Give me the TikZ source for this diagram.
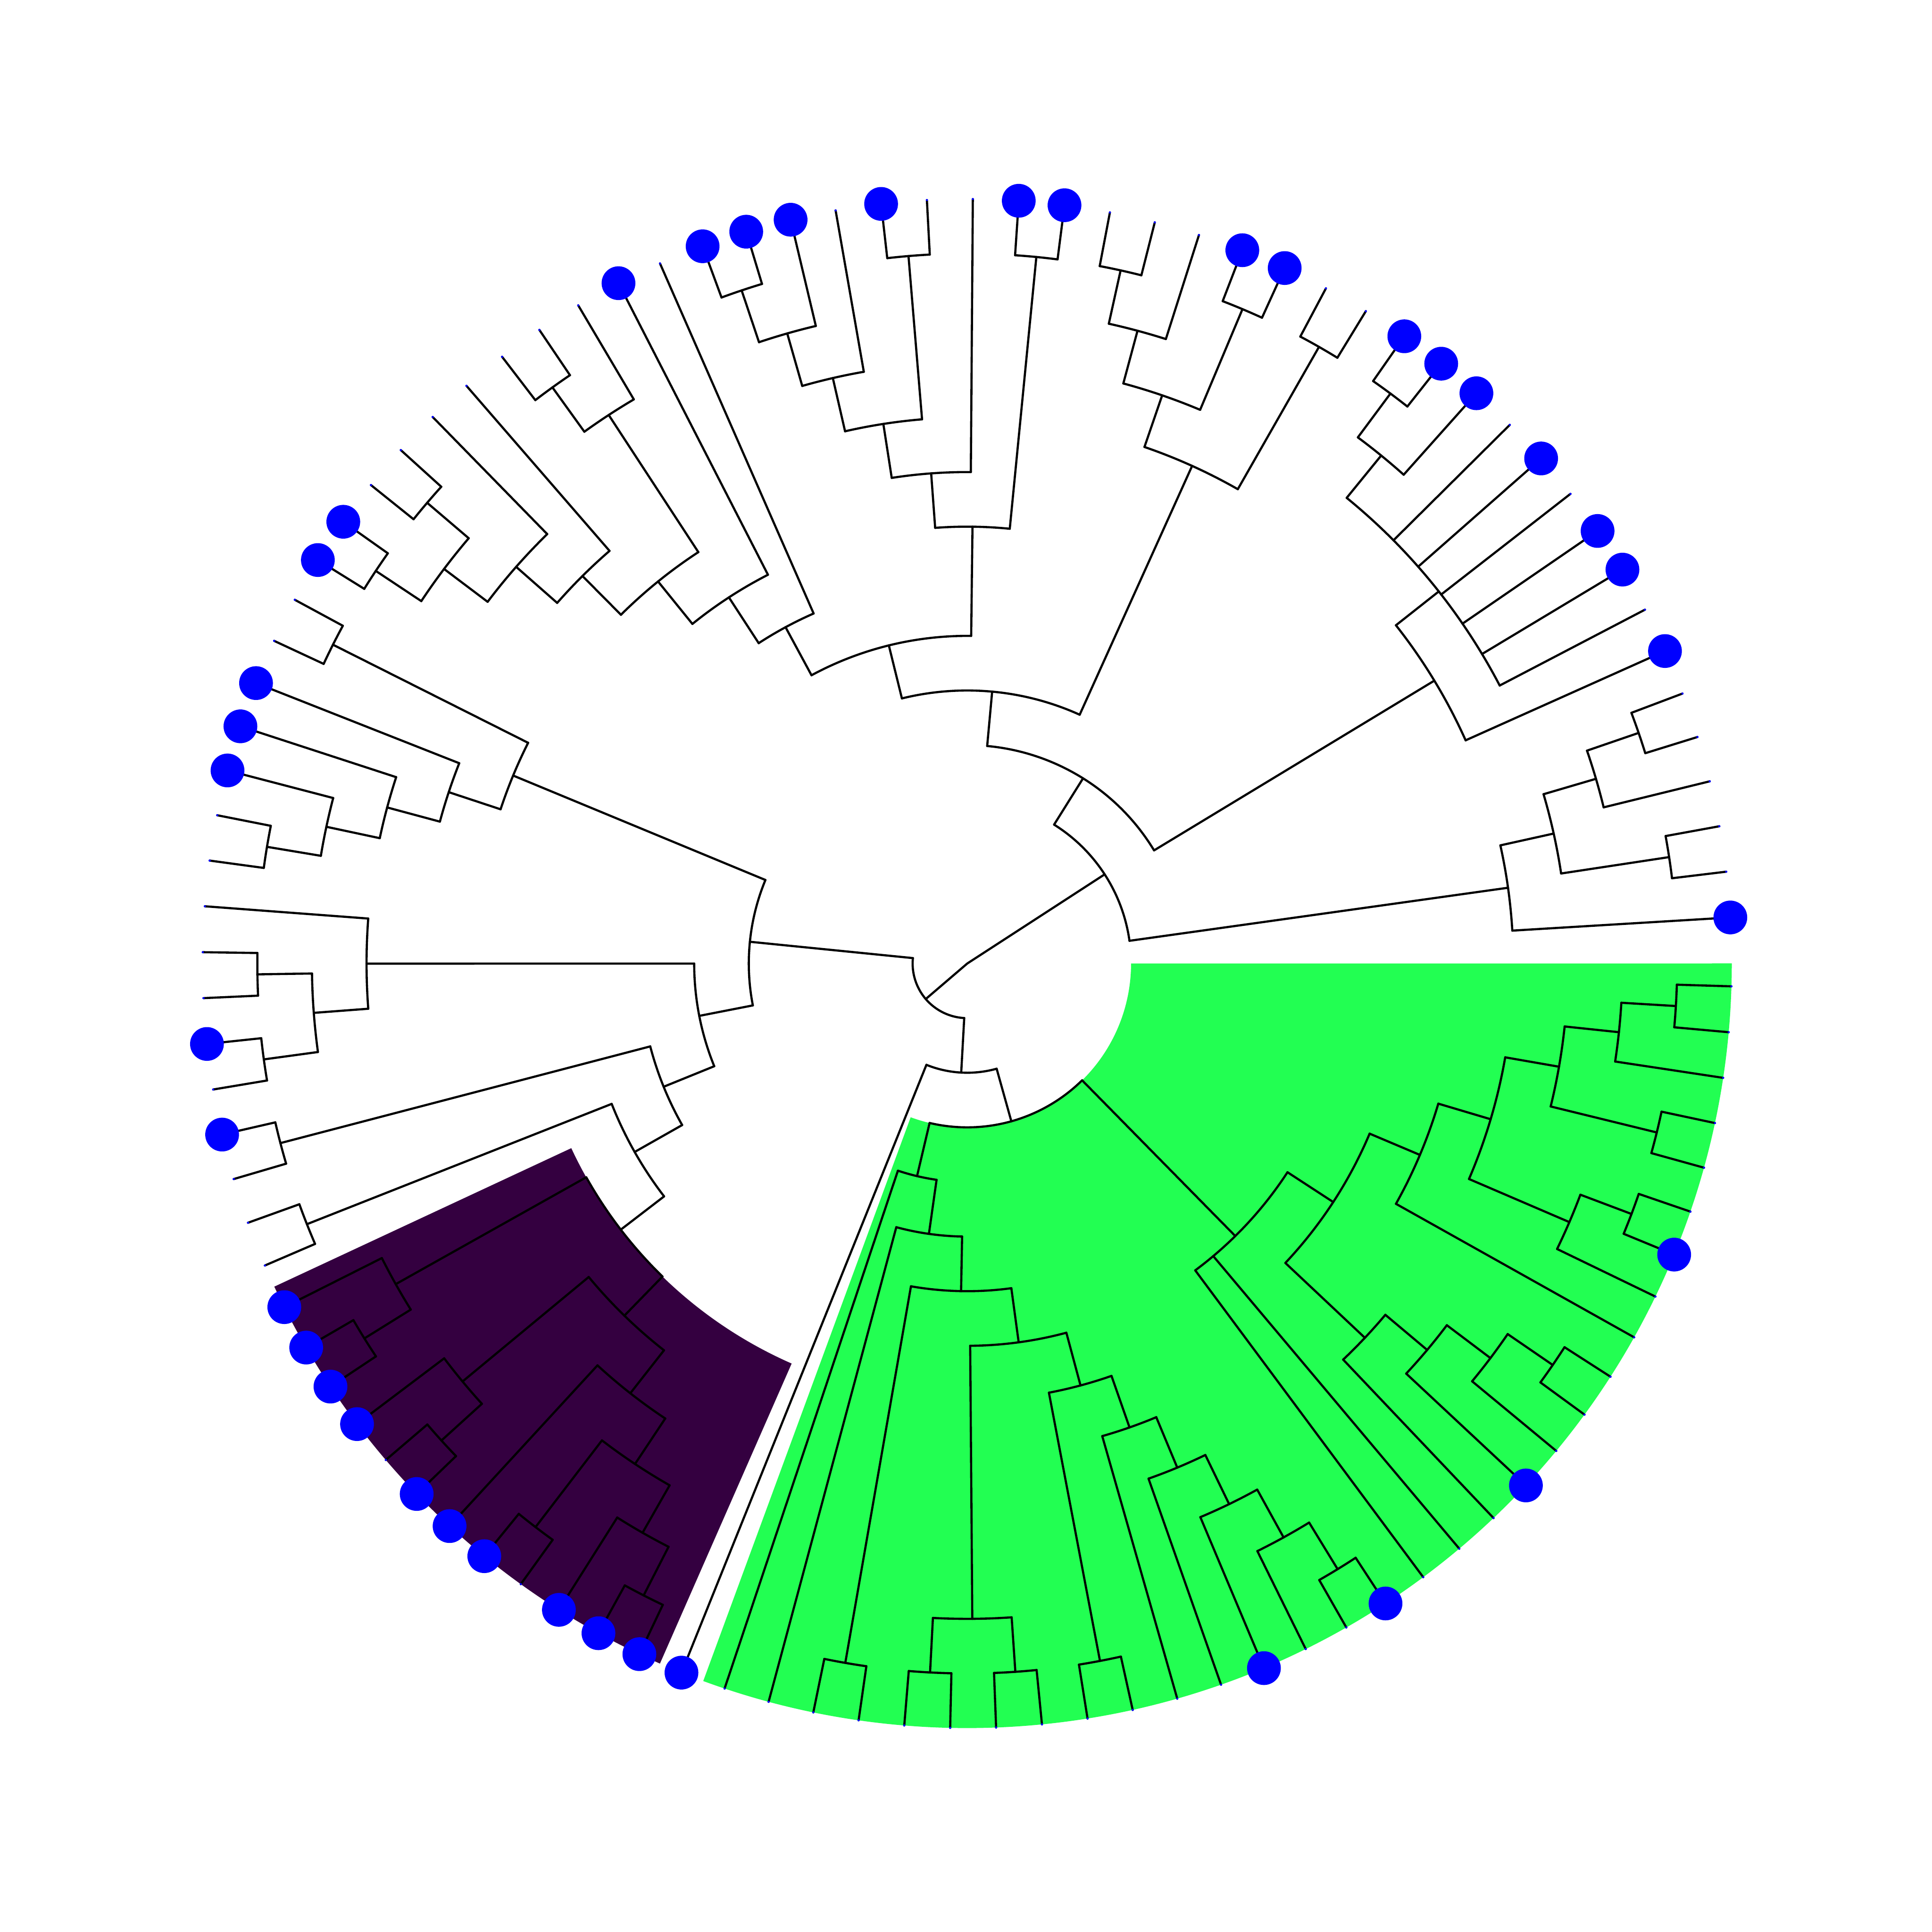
\documentclass[tikz,border=0pt]{standalone}
\definecolor{hlgreen}{HTML}{22FF52}
\definecolor{hlpurple}{HTML}{340040}
\tikzset{branch/.style={draw=black,line width=.5pt,line cap=round,line join=round},tipdot/.style={fill=blue},tipend/.style={fill=blue}}
\newcommand\tstep{0.44321}
% tip k: angle from its index, radius 14 steps
\newcommand\tleaf[1]{%
  \expandafter\xdef\csname tA@L#1\endcsname{\fpeval{-1.71-(#1-1)*3.445}}%
  \expandafter\xdef\csname tD@L#1\endcsname{14}%
  \coordinate (L#1) at (\csname tA@L#1\endcsname:{14*\tstep});}
% clade: name, depth, children
\newcommand\tclade[3]{%
  \gdef\tsum{0}%
  \foreach \tc [count=\tn] in {#3}{%
    \xdef\tsum{\fpeval{\tsum+\csname tA@\tc\endcsname}}%
    \xdef\tcnt{\tn}%
    \ifnum\tn=1 \xdef\tfirst{\csname tA@\tc\endcsname}\fi
    \xdef\tlast{\csname tA@\tc\endcsname}}%
  \expandafter\xdef\csname tA@#1\endcsname{\fpeval{\tsum/\tcnt}}%
  \expandafter\xdef\csname tD@#1\endcsname{#2}%
  \xdef\trad{\fpeval{#2*\tstep}}%
  \draw[branch] (\tfirst:\trad) arc[start angle=\tfirst,end angle=\tlast,radius=\trad];
  \foreach \tc in {#3}{\draw[branch] (\tc) -- (\csname tA@\tc\endcsname:\trad);}
  \coordinate (#1) at (\csname tA@#1\endcsname:\trad);}

\begin{document}
\begin{tikzpicture}
\useasboundingbox (-7.85,-7.86) rectangle (7.83,7.82);
% highlighted clades
\fill[hlgreen] (0.01:1.3296) arc[start angle=0.01,end angle=-110.2,radius=1.3296] -- (-110.2:6.205) arc[start angle=-110.2,end angle=0.01,radius=6.205] -- cycle;
\fill[hlpurple] (-113.7:3.5457) arc[start angle=-113.7,end angle=-155,radius=3.5457] -- (-155:6.205) arc[start angle=-155,end angle=-113.7,radius=6.205] -- cycle;
% tips
\foreach \k in {1,...,104}{\tleaf{\k}}
% green clade
\tclade{gA}{13}{L1,L2}
\tclade{gB}{12}{gA,L3}
\tclade{gD}{13}{L4,L5}
\tclade{gC}{11}{gB,gD}
\tclade{gG}{13}{L6,L7}
\tclade{gH}{12}{gG,L8}
\tclade{gE}{10}{gC,gH}
\tclade{gI}{9}{gE,L9}
\tclade{gP}{13}{L10,L11}
\tclade{gO}{12}{gP,L12}
\tclade{gN}{11}{gO,L13}
\tclade{gK}{10}{gN,L14}
\tclade{gJ}{8}{gI,gK}
\tclade{gL}{7}{gJ,L15,L16}
\tclade{gZf}{13}{L17,L18}
\tclade{gZe}{12}{gZf,L19}
\tclade{gZd}{11}{gZe,L20}
\tclade{gZc}{10}{gZd,L21}
\tclade{gZb}{9}{gZc,L22}
\tclade{gZa}{13}{L23,L24}
\tclade{gZ}{8}{gZa,gZb}
\tclade{gYb}{13}{L25,L26}
\tclade{gYa}{13}{L27,L28}
\tclade{gX}{12}{gYa,gYb}
\tclade{gW}{7}{gX,gZ}
\tclade{gV}{13}{L29,L30}
\tclade{gU}{6}{gV,gW}
\tclade{gT}{5}{L31,gU}
\tclade{gS}{4}{L32,gT}
\tclade{gQ}{3}{gL,gS}
\tclade{rB}{2}{gQ,L33}
% purple clade
\tclade{pA}{13}{L43,L44}
\tclade{pB}{12}{pA,L45}
\tclade{pC}{13}{L34,L35}
\tclade{pD}{12}{pC,L36}
\tclade{pE}{13}{L37,L38}
\tclade{pF}{11}{pD,pE}
\tclade{pG}{10}{pF,L39}
\tclade{pH}{13}{L40,L41}
\tclade{pI}{12}{pH,L42}
\tclade{pJ}{9}{pG,pI}
\tclade{pK}{8}{pB,pJ}
% left side
\tclade{hA}{13}{L46,L47}
\tclade{hC}{7}{hA,pK}
\tclade{hB}{13}{L48,L49}
\tclade{hD}{6}{hB,hC}
\tclade{fA}{13}{L50,L51}
\tclade{fB}{13}{L52,L53}
\tclade{fC}{12}{fA,fB}
\tclade{fD}{11}{fC,L54}
\tclade{fE}{5}{fD,hD}
\tclade{eA}{13}{L55,L56}
\tclade{eB}{12}{eA,L57}
\tclade{eC}{11}{eB,L58}
\tclade{eD}{10}{eC,L59}
\tclade{eE}{13}{L60,L61}
\tclade{eF}{9}{eD,eE}
\tclade{rD}{4}{fE,eF}
\tclade{rA}{1}{rD,rB}
% upper half
\tclade{wA}{13}{L99,L100}
\tclade{wB}{12}{wA,L101}
\tclade{wC}{13}{L102,L103}
\tclade{wD}{11}{wB,wC}
\tclade{wE}{10}{wD,L104}
\tclade{yA}{13}{L89,L90}
\tclade{yB}{12}{yA,L91}
\tclade{yC}{11}{yB,L92,L93,L94,L95,L96,L97}
\tclade{yD}{10}{yC,L98}
\tclade{xA}{13}{L82,L83}
\tclade{xB}{12}{xA,L84}
\tclade{xC}{13}{L85,L86}
\tclade{xD}{11}{xB,xC}
\tclade{xE}{13}{L87,L88}
\tclade{xF}{10}{xD,xE}
\tclade{vA}{13}{L73,L74}
\tclade{vB}{12}{vA,L75}
\tclade{vC}{11}{vB,L76}
\tclade{vD}{13}{L77,L78}
\tclade{vE}{10}{vC,vD}
\tclade{vF}{9}{vE,L79}
\tclade{vG}{13}{L80,L81}
\tclade{vH}{8}{vF,vG}
\tclade{uA}{13}{L62,L63}
\tclade{uB}{13}{L64,L65}
\tclade{uC}{12}{uA,uB}
\tclade{uD}{11}{uC,L66}
\tclade{uE}{10}{uD,L67}
\tclade{uF}{13}{L68,L69}
\tclade{uG}{12}{uF,L70}
\tclade{uH}{9}{uE,uG}
\tclade{uI}{8}{uH,L71}
\tclade{uJ}{7}{uI,L72}
\tclade{vI}{6}{uJ,vH}
\tclade{vJ}{5}{vI,xF}
\tclade{vK}{4}{vJ,yD}
\tclade{rC}{3}{vK,wE}
% root
\coordinate (root) at (0,0);
\draw[branch] (rA) -- (root) -- (rC);
% tip points
\foreach \k in {1,...,104}\fill[tipend] (L\k) circle (0.009);
\foreach \k in {7,13,17,20,33,34,35,36,38,39,40,42,43,44,45,49,51,57,58,59,62,63,71,73,74,75,77,80,81,85,86,89,90,91,93,95,96,98,104}\fill[tipdot] (L\k) circle (0.137);
\end{tikzpicture}
\end{document}
